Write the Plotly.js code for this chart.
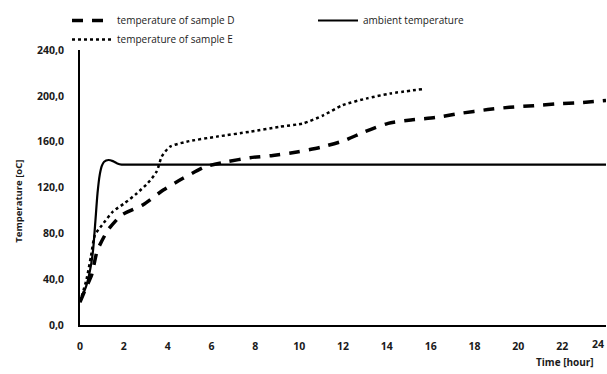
<!DOCTYPE html>
<html>
<head>
<meta charset="utf-8">
<script src="https://cdn.plot.ly/plotly-3.0.1.min.js"></script>
<style>html,body{margin:0;padding:0;background:#fff;}#chart{width:607px;height:374px;}</style>
</head>
<body>
<div id="chart"></div>
<script>
// Time [hour]
const ambientX = [0, 0.3, 0.5, 0.6, 0.7, 0.8, 0.9, 1.0, 1.1, 1.3, 1.5, 1.7, 1.9, 2.0, 24];
const ambientY = [20, 35, 52, 66, 90, 115, 131, 139, 142.5, 144, 143, 141, 140, 140, 140];

const sampleDX = [0, 0.23, 0.53, 0.79, 1.28, 1.9, 2.88, 3.8, 4.7, 5.7, 6.7, 7.76, 8.8, 9.9, 10.96, 12, 13, 14.06, 15.1, 16.2, 17.35, 18.6, 19.6, 20.7, 21.8, 22.8, 24];
const sampleDY = [20, 30.5, 43.6, 65, 83, 96, 105, 117.8, 128, 138, 142.5, 146, 148, 151, 155, 160.6, 168.7, 176, 179, 181, 184.7, 188, 190, 191.4, 193, 194, 196];

const sampleEX = [0, 0.3, 0.5, 0.68, 1.0, 1.5, 2.05, 2.6, 3.1, 3.5, 3.73, 4.1, 4.87, 6.24, 7.76, 9.1, 10.2, 11.1, 12, 13.1, 14.15, 15.67];
const sampleEY = [20, 40, 60, 78.5, 87, 99, 106.5, 115, 124, 134, 147, 155.6, 160, 164.4, 168.7, 173, 176, 183, 192, 197.8, 202, 206];

const xTicks = [0, 2, 4, 6, 8, 10, 12, 14, 16, 18, 20, 22, 24];
const yTicks = [0, 40, 80, 120, 160, 200, 240];

const traces = [
  {x: sampleDX, y: sampleDY, name: 'temperature of sample D', mode: 'lines',
   line: {color: '#000', width: 3.5, dash: '11px,9px', shape: 'spline', smoothing: 0.6}},
  {x: ambientX, y: ambientY, name: 'ambient temperature', mode: 'lines',
   line: {color: '#000', width: 2.2, shape: 'spline', smoothing: 0.6}},
  {x: sampleEX, y: sampleEY, name: 'temperature of sample E', mode: 'lines',
   line: {color: '#000', width: 2.5, dash: 'dot', shape: 'spline', smoothing: 0.6}}
];

const tickFont = {family: 'Open Sans, sans-serif', size: 10.5, color: '#1a1a1a', weight: 'bold'};

// last x tick label sits at the right edge, drawn as annotation so it stays visible
const lastTick = xTicks[xTicks.length - 1];

const layout = {
  width: 607, height: 374,
  margin: {l: 80, r: 1, t: 50, b: 49},
  paper_bgcolor: '#fff', plot_bgcolor: '#fff',
  separators: ',.',
  showlegend: true,
  legend: {orientation: 'h', x: -0.0247, y: 1.16, xanchor: 'left', yanchor: 'top',
    entrywidth: 191, entrywidthmode: 'pixels', traceorder: 'normal',
    font: {family: 'Open Sans, sans-serif', size: 10, color: '#1a1a1a'},
    itemwidth: 40, tracegroupgap: 0, bgcolor: 'rgba(0,0,0,0)'},
  xaxis: {range: [0, 24], tickvals: xTicks.slice(0, -1), ticktext: xTicks.slice(0, -1).map(String),
    showgrid: false, zeroline: false, showline: true, linecolor: '#000', linewidth: 2,
    ticks: '', ticklabelstandoff: 10, tickfont: tickFont, fixedrange: true},
  yaxis: {range: [0, 240], tickvals: yTicks, tickformat: '.1f',
    showgrid: false, zeroline: false, showline: true, linecolor: '#000', linewidth: 2,
    ticks: '', ticklabelstandoff: 12, tickfont: tickFont, fixedrange: true},
  annotations: [
    {text: String(lastTick), xref: 'x', yref: 'paper', x: lastTick, y: 0, yshift: -19,
     xanchor: 'right', yanchor: 'middle', showarrow: false, font: tickFont},
    {text: 'Time [hour]', xref: 'paper', yref: 'paper', x: 0.922, y: -0.135,
     xanchor: 'center', yanchor: 'middle', showarrow: false,
     font: {family: 'Open Sans, sans-serif', size: 10, color: '#1a1a1a', weight: 'bold'}},
    {text: 'Temperature [oC]', xref: 'paper', yref: 'paper', x: -0.117, y: 0.45,
     xanchor: 'center', yanchor: 'middle', textangle: -90, showarrow: false,
     font: {family: 'Open Sans, sans-serif', size: 9.5, color: '#1a1a1a', weight: 'bold'}}
  ]
};

Plotly.newPlot('chart', traces, layout, {displayModeBar: false, staticPlot: true});
</script>
</body>
</html>
